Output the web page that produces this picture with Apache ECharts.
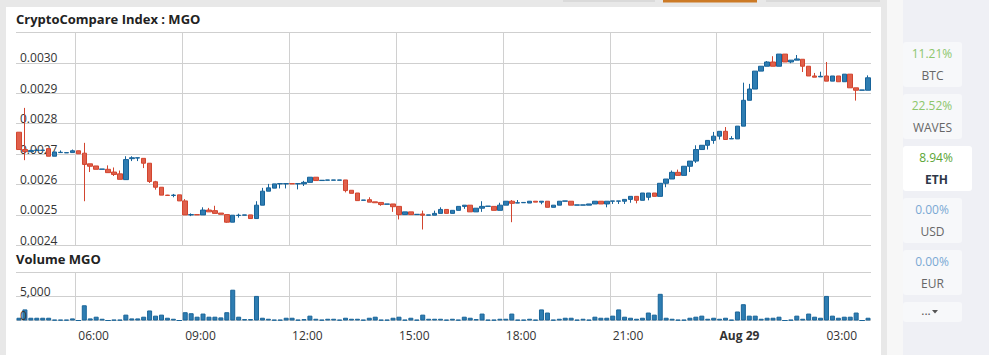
<!DOCTYPE html>
<html>
<head>
<meta charset="utf-8">
<script src="https://cdn.jsdelivr.net/npm/echarts@6/dist/echarts.min.js"></script>
<style>
html,body{margin:0;padding:0;background:#e8e8e8;}
#chart{width:989px;height:355px;}
</style>
</head>
<body>
<div id="chart"></div>
<script>
// ---- DATA (10-minute candles, Aug 28 04:20 -> Aug 29 04:10) ----
const categories = [];
for (let i = 0; i < 144; i++) {
  const m = (4 * 60 + 20 + i * 10) % 1440;
  categories.push(String(Math.floor(m / 60)).padStart(2, '0') + ':' + String(m % 60).padStart(2, '0'));
}

const opens = [
0.002772,0.002715,0.002708,0.002712,0.002712,0.002718,0.002693,0.002705,0.002704,0.002705,
0.002711,0.002703,0.002668,0.002661,0.002650,0.002650,0.002641,0.002635,0.002616,0.002685,
0.002687,0.002686,0.002670,0.002609,0.002591,0.002565,0.002564,0.002566,0.002546,0.002500,
0.002501,0.002500,0.002516,0.002514,0.002506,0.002501,0.002476,0.002498,0.002499,0.002500,
0.002488,0.002532,0.002578,0.002588,0.002602,0.002602,0.002603,0.002602,0.002602,0.002607,
0.002624,0.002613,0.002614,0.002614,0.002614,0.002615,0.002581,0.002572,0.002548,0.002550,
0.002543,0.002541,0.002535,0.002536,0.002528,0.002501,0.002510,0.002501,0.002503,0.002499,
0.002499,0.002505,0.002518,0.002505,0.002515,0.002528,0.002532,0.002510,0.002522,0.002528,
0.002528,0.002515,0.002532,0.002545,0.002539,0.002540,0.002539,0.002545,0.002542,0.002545,
0.002525,0.002532,0.002545,0.002545,0.002532,0.002532,0.002532,0.002536,0.002545,0.002536,
0.002545,0.002545,0.002545,0.002551,0.002561,0.002548,0.002558,0.002572,0.002561,0.002604,
0.002618,0.002640,0.002630,0.002660,0.002677,0.002715,0.002729,0.002745,0.002759,0.002775,
0.002750,0.002750,0.002792,0.002877,0.002914,0.002973,0.002989,0.003003,0.002989,0.003029,
0.003003,0.003009,0.003012,0.002989,0.002957,0.002954,0.002957,0.002940,0.002957,0.002938,
0.002963,0.002918,0.002910,0.002910
];
const closes = [
0.002715,0.002708,0.002712,0.002713,0.002713,0.002693,0.002707,0.002706,0.002705,0.002711,
0.002701,0.002666,0.002660,0.002650,0.002651,0.002639,0.002633,0.002617,0.002682,0.002688,
0.002688,0.002670,0.002610,0.002591,0.002565,0.002564,0.002565,0.002546,0.002500,0.002501,
0.002500,0.002516,0.002510,0.002505,0.002502,0.002476,0.002499,0.002499,0.002500,0.002488,
0.002532,0.002578,0.002589,0.002602,0.002603,0.002603,0.002602,0.002603,0.002607,0.002624,
0.002613,0.002614,0.002615,0.002615,0.002615,0.002580,0.002571,0.002547,0.002549,0.002542,
0.002540,0.002534,0.002536,0.002527,0.002501,0.002510,0.002501,0.002502,0.002499,0.002500,
0.002505,0.002518,0.002505,0.002515,0.002528,0.002532,0.002510,0.002522,0.002528,0.002529,
0.002515,0.002532,0.002545,0.002538,0.002540,0.002541,0.002545,0.002542,0.002545,0.002525,
0.002532,0.002545,0.002546,0.002532,0.002533,0.002533,0.002536,0.002545,0.002536,0.002545,
0.002546,0.002546,0.002551,0.002561,0.002548,0.002572,0.002572,0.002561,0.002604,0.002618,
0.002640,0.002630,0.002660,0.002677,0.002715,0.002729,0.002745,0.002759,0.002775,0.002748,
0.002751,0.002792,0.002877,0.002914,0.002973,0.002989,0.003003,0.002989,0.003029,0.003003,
0.003009,0.003013,0.002989,0.002957,0.002953,0.002956,0.002940,0.002957,0.002938,0.002963,
0.002918,0.002910,0.002911,0.002951
];
const lows = [
0.002715,0.002680,0.002708,0.002710,0.002712,0.002693,0.002693,0.002704,0.002704,0.002705,
0.002701,0.002545,0.002641,0.002650,0.002650,0.002639,0.002628,0.002617,0.002616,0.002677,
0.002677,0.002654,0.002605,0.002583,0.002565,0.002564,0.002558,0.002546,0.002500,0.002496,
0.002500,0.002500,0.002510,0.002505,0.002502,0.002474,0.002476,0.002491,0.002499,0.002488,
0.002488,0.002532,0.002578,0.002588,0.002587,0.002587,0.002602,0.002584,0.002595,0.002607,
0.002613,0.002613,0.002614,0.002614,0.002614,0.002574,0.002571,0.002547,0.002548,0.002542,
0.002540,0.002530,0.002535,0.002510,0.002485,0.002501,0.002501,0.002501,0.002452,0.002499,
0.002499,0.002505,0.002505,0.002505,0.002515,0.002520,0.002510,0.002510,0.002510,0.002528,
0.002515,0.002515,0.002532,0.002476,0.002539,0.002540,0.002539,0.002542,0.002535,0.002525,
0.002525,0.002532,0.002545,0.002532,0.002532,0.002532,0.002532,0.002536,0.002536,0.002525,
0.002536,0.002536,0.002536,0.002540,0.002538,0.002548,0.002548,0.002561,0.002561,0.002591,
0.002618,0.002630,0.002630,0.002641,0.002671,0.002715,0.002715,0.002734,0.002748,0.002748,
0.002750,0.002750,0.002792,0.002877,0.002914,0.002973,0.002989,0.002989,0.002989,0.003003,
0.002999,0.003009,0.002970,0.002957,0.002953,0.002954,0.002940,0.002940,0.002938,0.002938,
0.002918,0.002876,0.002910,0.002910
];
const highs = [
0.002772,0.002852,0.002714,0.002718,0.002714,0.002718,0.002707,0.002712,0.002705,0.002715,
0.002711,0.002737,0.002668,0.002661,0.002651,0.002663,0.002656,0.002646,0.002693,0.002693,
0.002688,0.002686,0.002670,0.002612,0.002591,0.002566,0.002569,0.002566,0.002552,0.002505,
0.002501,0.002525,0.002523,0.002530,0.002506,0.002501,0.002499,0.002504,0.002500,0.002500,
0.002545,0.002589,0.002602,0.002602,0.002603,0.002603,0.002603,0.002603,0.002612,0.002624,
0.002624,0.002614,0.002615,0.002615,0.002615,0.002615,0.002581,0.002572,0.002549,0.002558,
0.002543,0.002541,0.002536,0.002536,0.002528,0.002510,0.002510,0.002502,0.002514,0.002500,
0.002514,0.002525,0.002518,0.002515,0.002528,0.002532,0.002532,0.002522,0.002545,0.002529,
0.002528,0.002540,0.002545,0.002549,0.002549,0.002541,0.002545,0.002545,0.002545,0.002545,
0.002532,0.002545,0.002546,0.002545,0.002533,0.002533,0.002536,0.002545,0.002545,0.002545,
0.002546,0.002546,0.002551,0.002561,0.002561,0.002572,0.002572,0.002572,0.002604,0.002618,
0.002646,0.002649,0.002660,0.002677,0.002729,0.002729,0.002745,0.002773,0.002775,0.002789,
0.002759,0.002792,0.002935,0.002931,0.002973,0.002989,0.003006,0.003022,0.003029,0.003029,
0.003009,0.003026,0.003012,0.002989,0.002967,0.002971,0.003003,0.002957,0.002957,0.002963,
0.002963,0.002918,0.002911,0.002959
];
const volumes = [
570,2285,570,570,570,570,150,150,150,430,
0,3140,430,785,360,0,150,150,1210,430,
430,785,2070,1000,1210,570,360,0,1710,1500,
785,1430,785,785,640,1710,6350,785,290,290,
5070,570,360,150,150,570,570,150,290,1000,
360,150,360,360,150,570,360,360,150,570,
785,150,150,570,785,150,570,150,1210,360,
360,360,150,360,150,785,570,290,1430,150,
150,360,360,1430,150,150,360,150,2285,1640,
150,360,570,570,150,360,150,785,570,570,
1000,2285,785,570,360,570,1640,1210,5500,570,
360,150,150,570,785,1000,360,570,360,570,
150,1860,3360,1000,1000,360,570,570,785,0,
150,1000,360,1430,785,570,5070,1000,570,785,
785,1640,0,570
];
const priceTicks = { min: 0.0024, max: 0.0031, step: 0.0001 };
const volumeTicks = { min: 0, max: 10000, step: 5000 };
const tickFirstIndex = 10;   // category index of first time tick (06:00)
const tickEvery = 18;        // 3 hours of 10-minute candles
const tickLabels = ['06:00', '09:00', '12:00', '15:00', '18:00', '21:00', 'Aug 29', '03:00'];
const sideItems = [
  { pct: '11.21%', name: 'BTC', kind: 'up' },
  { pct: '22.52%', name: 'WAVES', kind: 'up' },
  { pct: '8.94%', name: 'ETH', kind: 'active' },
  { pct: '0.00%', name: 'USD', kind: 'flat' },
  { pct: '0.00%', name: 'EUR', kind: 'flat' }
];

// ---- CHART ----
const FONT = '"Open Sans", "Noto Sans", sans-serif';
const candleData = opens.map((o, i) => [o, closes[i], lows[i], highs[i]]);
const isTick = (idx) => idx >= tickFirstIndex && (idx - tickFirstIndex) % tickEvery === 0;

const gridLine = { show: true, lineStyle: { color: '#cfcfcf', width: 1 } };
const vGridLine = { show: true, interval: (idx) => isTick(idx), showMaxLine: false, lineStyle: { color: '#d0d0d0', width: 1 } };
const yLabelBase = {
  inside: true, margin: 4, align: 'left', verticalAlign: 'bottom', lineHeight: 10,
  fontFamily: FONT, fontSize: 12, color: '#333333'
};

const graphic = [
  { type: 'rect', z: -20, shape: { x: 0, y: 0, width: 989, height: 355 }, style: { fill: '#e8e8e8' }, silent: true },
  { type: 'rect', z: -19, shape: { x: 6, y: 7, width: 875, height: 348 }, style: { fill: '#ffffff' }, silent: true },
  { type: 'rect', z: -19, shape: { x: 887, y: 0, width: 16, height: 355 }, style: { fill: '#f7f7f7' }, silent: true },
  { type: 'rect', z: -19, shape: { x: 903, y: 0, width: 86, height: 355 }, style: { fill: '#eff0f5' }, silent: true },
  { type: 'rect', z: -18, shape: { x: 563, y: 0, width: 92, height: 2 }, style: { fill: '#dadada' }, silent: true },
  { type: 'rect', z: -18, shape: { x: 663, y: 0, width: 94, height: 2.5 }, style: { fill: '#cc7a26' }, silent: true },
  { type: 'rect', z: -18, shape: { x: 766, y: 0, width: 114, height: 2 }, style: { fill: '#dadada' }, silent: true }
];
sideItems.forEach((it, i) => {
  const y0 = 42 + i * 52;
  const active = it.kind === 'active';
  const w = active ? 69 : 59;
  const cx = active ? 936 : 932;
  graphic.push({ type: 'rect', z: -17, shape: { x: 903, y: y0, width: w, height: 45, r: 3 }, style: { fill: active ? '#ffffff' : '#f7f8fa' }, silent: true });
  const pctColor = it.kind === 'up' ? '#8cc66c' : (active ? '#5aa535' : '#7aa8d4');
  graphic.push({ type: 'text', z: 5, style: { text: it.pct, x: cx, y: y0 + 11.5, align: 'center', verticalAlign: 'middle', fill: pctColor, font: '12px ' + FONT }, silent: true });
  graphic.push({ type: 'text', z: 5, style: { text: it.name, x: cx + 0.5, y: y0 + 33.5, align: 'center', verticalAlign: 'middle', fill: active ? '#2d3748' : '#666666', font: (active ? 'bold ' : '') + '12px ' + FONT }, silent: true });
});
graphic.push({ type: 'rect', z: -17, shape: { x: 903, y: 302, width: 59, height: 20, r: 3 }, style: { fill: '#f7f8fa' }, silent: true });
graphic.push({ type: 'text', z: 5, style: { text: '...', x: 926, y: 310, align: 'center', verticalAlign: 'middle', fill: '#555555', font: '12px ' + FONT }, silent: true });
graphic.push({ type: 'polygon', z: 5, shape: { points: [[932, 310], [938, 310], [935, 313.5]] }, style: { fill: '#555555' }, silent: true });

const option = {
  animation: false,
  title: [
    { text: 'CryptoCompare Index : MGO', left: 16, top: 12.5, padding: 0, textStyle: { fontFamily: FONT, fontSize: 13, fontWeight: 'bold', color: '#222222' } },
    { text: 'Volume MGO', left: 16, top: 252.5, padding: 0, textStyle: { fontFamily: FONT, fontSize: 13, fontWeight: 'bold', color: '#222222' } }
  ],
  grid: [
    { left: 16, right: 118, top: 32.5, height: 212.8 },
    { left: 16, right: 118, top: 272, height: 48.5 }
  ],
  xAxis: [
    {
      type: 'category', gridIndex: 0, data: categories, boundaryGap: true,
      axisLine: { show: false }, axisTick: { show: false }, axisLabel: { show: false },
      splitLine: vGridLine
    },
    {
      type: 'category', gridIndex: 1, data: categories, boundaryGap: true,
      axisLine: { show: false }, axisTick: { show: false },
      axisLabel: {
        show: true, interval: (idx) => isTick(idx), align: 'left', margin: 9,
        fontFamily: FONT, fontSize: 12, color: '#333333',
        formatter: (v, idx) => {
          const t = tickLabels[(idx - tickFirstIndex) / tickEvery];
          return t.indexOf(':') < 0 ? '{b|' + t + '}' : t;
        },
        rich: { b: { fontFamily: FONT, fontSize: 12, fontWeight: 'bold', color: '#333333' } }
      },
      splitLine: vGridLine
    }
  ],
  yAxis: [
    {
      type: 'value', gridIndex: 0, position: 'left',
      min: priceTicks.min, max: priceTicks.max, interval: priceTicks.step,
      axisLine: { show: false }, axisTick: { show: false },
      axisLabel: Object.assign({}, yLabelBase, {
        formatter: (v) => (v > priceTicks.max - priceTicks.step / 2 ? '' : v.toFixed(4))
      }),
      splitLine: gridLine
    },
    {
      type: 'value', gridIndex: 1, position: 'left',
      min: volumeTicks.min, max: volumeTicks.max, interval: volumeTicks.step,
      axisLine: { show: false }, axisTick: { show: false }, axisLabel: { show: false },
      splitLine: gridLine
    },
    {
      // label-only copy of the volume axis, drawn above the bars
      type: 'value', gridIndex: 1, position: 'left', z: 10,
      min: volumeTicks.min, max: volumeTicks.max, interval: volumeTicks.step,
      axisLine: { show: false }, axisTick: { show: false }, splitLine: { show: false },
      axisLabel: Object.assign({}, yLabelBase, {
        showMinLabel: true,
        formatter: (v) => (v >= volumeTicks.max ? '' : v.toLocaleString('en-US'))
      })
    }
  ],
  series: [
    {
      type: 'candlestick', xAxisIndex: 0, yAxisIndex: 0, data: candleData, barWidth: 5,
      itemStyle: { color: '#2e7db2', color0: '#e0604b', borderColor: '#17639a', borderColor0: '#d2452f', borderWidth: 1 }
    },
    {
      type: 'bar', xAxisIndex: 1, yAxisIndex: 1, data: volumes, barWidth: 5,
      itemStyle: { color: '#2e7db2', borderColor: '#1a6599', borderWidth: 1 }
    }
  ],
  graphic: graphic
};

const chart = echarts.init(document.getElementById('chart'), null, { renderer: 'svg' });
chart.setOption(option);
</script>
</body>
</html>
